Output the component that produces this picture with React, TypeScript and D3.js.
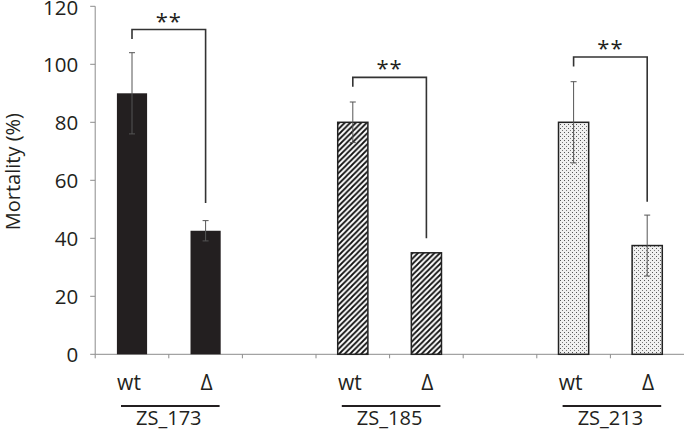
import React from 'react';
import * as d3 from 'd3';

const groups = ['ZS_173', 'ZS_185', 'ZS_213'];
const strains = ['wt', 'Δ'];
const means = [[90, 42.6], [80, 35], [80, 37.5]];
const errors = [[14, 3.5], [7, 0], [14, 10.5]];
// significance brackets: top line, left drop end, right drop end (in % units)
const bracketTop = [112, 95.5, 102.5];
const bracketLeft = [108.7, 92.3, 99.2];
const bracketRight = [52.2, 40, 52.6];
const yTicks = [0, 20, 40, 60, 80, 100, 120];

const width = 685;
const height = 432;
const font = '"Open Sans", "Noto Sans", sans-serif';

// 8 slots: wt, Δ, gap, wt, Δ, gap, wt, Δ
const slots: string[] = [];
groups.forEach((g, i) => {
  strains.forEach(s => slots.push(g + s));
  if (i < groups.length - 1) slots.push('gap' + i);
});

const x = d3.scaleBand<string>().domain(slots).range([95.2, 684]).padding(0);
const y = d3.scaleLinear().domain([0, 120]).range([354.3, 6.3]);
const barW = x.bandwidth() * 0.41;
const cx = (g: string, s: string) => (x(g + s) as number) + x.bandwidth() / 2;
const fills = ['#231f20', 'url(#hatch)', 'url(#dots)'];

export default function App() {
  const x0 = x.range()[0];
  const x1 = x.range()[1];
  const y0 = y(0);
  return (
    <svg width={width} height={height} style={{ position: 'absolute', left: 0, top: 0 }}>
      <defs>
        <pattern id="hatch" width={5.5} height={5.5} patternUnits="userSpaceOnUse">
          <rect width={5.5} height={5.5} fill="#fff" />
          <path d="M-1,6.5 L6.5,-1 M-1,1 L1,-1 M4.5,6.5 L6.5,4.5" stroke="#111" strokeWidth={1.8} />
        </pattern>
        <pattern id="dots" width={4} height={4} patternUnits="userSpaceOnUse">
          <rect width={4} height={4} fill="#f0f0f0" />
          <rect x={0} y={0} width={1} height={1} fill="#555" />
          <rect x={2} y={2} width={1} height={1} fill="#777" />
        </pattern>
      </defs>

      {/* y axis */}
      <line x1={x0} x2={x0} y1={y(120)} y2={y0} stroke="#8c8c8c" />
      {yTicks.map(t => (
        <g key={t}>
          <line x1={x0 - 5} x2={x0} y1={y(t)} y2={y(t)} stroke="#8c8c8c" />
          <text x={x0 - 17} y={Math.max(y(t), 8)} dy="0.36em" textAnchor="end" fontFamily={font} fontSize={20.5} fill="#231f20">
            {t}
          </text>
        </g>
      ))}
      <text
        transform={`translate(13,${y(63)}) rotate(-90)`}
        dy="0.35em"
        textAnchor="middle"
        fontFamily={font}
        fontSize={20}
        fill="#231f20"
      >
        Mortality (%)
      </text>

      {/* x axis */}
      <line x1={x0} x2={x1} y1={y0} y2={y0} stroke="#8c8c8c" />
      {slots.map(s => (
        <line key={s} x1={x(s)} x2={x(s)} y1={y0} y2={y0 + 4} stroke="#8c8c8c" />
      ))}

      {groups.map((g, gi) => (
        <g key={g}>
          {strains.map((s, si) => {
            const c = cx(g, s);
            const v = means[gi][si];
            const e = errors[gi][si];
            return (
              <g key={s}>
                <rect
                  x={c - barW / 2}
                  y={y(v)}
                  width={barW}
                  height={y0 - y(v)}
                  fill={fills[gi]}
                  stroke={gi === 0 ? '#231f20' : '#222'}
                  strokeWidth={gi === 0 ? 0 : 1.5}
                />
                {e > 0 && (
                  <g stroke="#555" strokeWidth={1}>
                    <line x1={c} x2={c} y1={y(v + e)} y2={y(v - e)} />
                    <line x1={c - 3} x2={c + 3} y1={y(v + e)} y2={y(v + e)} />
                    <line x1={c - 3} x2={c + 3} y1={y(v - e)} y2={y(v - e)} />
                  </g>
                )}
                <text
                  x={si === 0 ? c - 3 : c + 1}
                  y={390}
                  textAnchor="middle"
                  fontFamily={font}
                  fontSize={21}
                  fill="#231f20"
                >
                  {s}
                </text>
              </g>
            );
          })}
          {/* significance bracket */}
          <path
            d={`M${cx(g, 'wt')},${y(bracketLeft[gi])} V${y(bracketTop[gi])} H${cx(g, 'Δ')} V${y(bracketRight[gi])}`}
            fill="none"
            stroke="#333"
            strokeWidth={1.6}
          />
          <text
            x={(cx(g, 'wt') + cx(g, 'Δ')) / 2}
            y={y(bracketTop[gi]) - 1}
            textAnchor="middle"
            fontFamily={font}
            fontSize={22}
            letterSpacing={1}
            fill="#231f20"
          >
            **
          </text>
          {/* group underline and label */}
          <line
            x1={cx(g, 'wt') - 11}
            x2={cx(g, 'Δ') + 14}
            y1={406}
            y2={406}
            stroke="#231f20"
            strokeWidth={2}
          />
          <text
            x={(cx(g, 'wt') + cx(g, 'Δ')) / 2}
            y={425}
            textAnchor="middle"
            fontFamily={font}
            fontSize={20}
            fill="#231f20"
          >
            {g}
          </text>
        </g>
      ))}
    </svg>
  );
}
